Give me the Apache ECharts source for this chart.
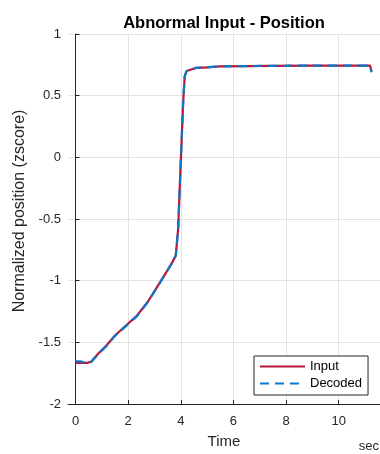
<!DOCTYPE html>
<html>
<head>
<meta charset="utf-8">
<script src="https://cdn.jsdelivr.net/npm/echarts@6/dist/echarts.min.js"></script>
<style>
  html, body { margin: 0; padding: 0; background: #fff; }
  #chart { width: 380px; height: 454px; }
</style>
</head>
<body>
<div id="chart"></div>
<script>
// Time stamps (sec)
const timeSec = [0, 0.1, 0.2, 0.3, 0.45, 0.6, 0.86, 1.2, 1.49, 1.97, 2.32, 2.76, 3.27, 3.65, 3.81, 3.90, 3.96, 4.02, 4.09, 4.15, 4.22, 4.28, 4.6, 5.0, 5.48, 6.5, 7.5, 9.0, 10.0, 11.19, 11.25];
// Normalized position of the input signal (zscore)
const inputPos = [-1.667, -1.667, -1.667, -1.667, -1.667, -1.655, -1.593, -1.52, -1.447, -1.353, -1.287, -1.167, -0.994, -0.862, -0.795, -0.58, -0.25, 0.07, 0.445, 0.658, 0.700, 0.712, 0.726, 0.730, 0.738, 0.740, 0.742, 0.744, 0.744, 0.744, 0.70];
// Normalized position decoded from the signal (zscore)
const decodedPos = [-1.655, -1.655, -1.655, -1.66, -1.667, -1.66, -1.597, -1.525, -1.45, -1.358, -1.292, -1.17, -0.996, -0.864, -0.797, -0.582, -0.252, 0.068, 0.443, 0.656, 0.699, 0.711, 0.726, 0.731, 0.738, 0.740, 0.742, 0.744, 0.744, 0.744, 0.69];
// Axis ticks
const xTicks = [0, 2, 4, 6, 8, 10];

const txt = '#262626';
const fontFam = '"Liberation Sans", Arial, Helvetica, sans-serif';
const inputColor = '#B8173C';
const decodedColor = '#0A78C8';

const chart = echarts.init(document.getElementById('chart'), null, { renderer: 'canvas' });

chart.setOption({
  animation: false,
  backgroundColor: '#fff',
  textStyle: { fontFamily: fontFam },
  title: {
    text: 'Abnormal Input - Position',
    left: 219,
    top: 10,
    textAlign: 'center',
    textStyle: { fontSize: 16.5, fontWeight: 'bold', color: '#000', fontFamily: fontFam }
  },
  graphic: [{
    type: 'text',
    right: 1,
    bottom: 1,
    style: { text: 'sec', fontSize: 13, fill: txt, fontFamily: fontFam }
  }],
  grid: { left: 68, right: 0, top: 34, bottom: 46 },
  legend: {
    left: 254,
    top: 356,
    orient: 'vertical',
    itemWidth: 45,
    itemHeight: 14,
    itemGap: 4,
    padding: [4, 6, 5, 5],
    borderColor: txt,
    borderWidth: 1,
    borderRadius: 0,
    backgroundColor: '#fff',
    itemStyle: { opacity: 0 },
    textStyle: { fontSize: 13, color: '#000', fontFamily: fontFam },
    data: ['Input', 'Decoded']
  },
  xAxis: {
    type: 'value',
    min: -0.285,
    max: 11.57,
    name: 'Time',
    nameLocation: 'middle',
    nameGap: 30,
    nameTextStyle: { fontSize: 15, color: txt, fontFamily: fontFam },
    axisLine: { onZero: false, lineStyle: { color: txt, width: 1 } },
    axisTick: { inside: true, length: 4, customValues: xTicks, lineStyle: { color: txt } },
    axisLabel: { customValues: xTicks, margin: 11, fontSize: 13, color: txt, fontFamily: fontFam },
    splitLine: { show: true, lineStyle: { color: '#e2e2e2', width: 1 } }
  },
  yAxis: {
    type: 'value',
    min: -2,
    max: 1,
    interval: 0.5,
    name: 'Normalized position (zscore)',
    nameLocation: 'middle',
    nameGap: 30,
    nameTextStyle: { fontSize: 16, color: txt, fontFamily: fontFam, padding: [0, 0, 0, 16] },
    axisLine: { show: true, lineStyle: { color: txt, width: 1 } },
    axisTick: { show: true, inside: true, length: 4, lineStyle: { color: txt } },
    axisLabel: { margin: 7, fontSize: 13, color: txt, fontFamily: fontFam },
    splitLine: { show: true, lineStyle: { color: '#e2e2e2', width: 1 } }
  },
  series: [
    {
      name: 'Input',
      type: 'line',
      data: timeSec.map((t, i) => [t, inputPos[i]]),
      symbol: 'none',
      lineStyle: { color: inputColor, width: 2.2 },
      itemStyle: { color: inputColor }
    },
    {
      name: 'Decoded',
      type: 'line',
      data: timeSec.map((t, i) => [t, decodedPos[i]]),
      symbol: 'none',
      lineStyle: { color: decodedColor, width: 2.2, type: [9, 6] },
      itemStyle: { color: decodedColor }
    }
  ]
});
</script>
</body>
</html>
